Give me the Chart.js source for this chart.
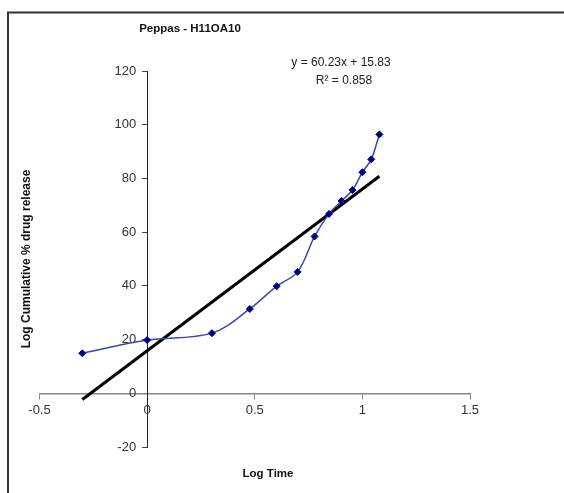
<!DOCTYPE html>
<html>
<head>
<meta charset="utf-8">
<title>Peppas - H11OA10</title>
<script src="https://cdn.jsdelivr.net/npm/chart.js@4.4.0/dist/chart.umd.min.js"></script>
<style>
  body { margin: 0; background: #fff; }
  #wrap { width: 564px; height: 493px; position: relative; }
</style>
</head>
<body>
<div id="wrap"><canvas id="myChart"></canvas></div>
<script>
// log time vs log cumulative % release
let logTime = [-0.301, 0, 0.301, 0.477, 0.602, 0.699, 0.778, 0.845, 0.903, 0.954, 1.0, 1.041, 1.079]
let release = [14.9, 19.8, 22.4, 31.4, 39.9, 45.2, 58.4, 66.8, 71.6, 75.7, 82.3, 87.1, 96.4]

// linear trendline ends
let trendX = [-0.301, 1.079]
let trendY = [-2.3, 80.8]

let xTicks = [-0.5, 0, 0.5, 1, 1.5]
let yTicks = [-20, 0, 20, 40, 60, 80, 100, 120]

let chartTitle = "Peppas - H11OA10"
let xTitle = "Log Time"
let yTitle = "Log Cumulative % drug release"
let eqLines = ["y = 60.23x + 15.83", "R\u00b2 = 0.858"]

function toPoints(xs, ys) {
    let pts = []
    for (let i = 0; i < xs.length; i++) {
        pts.push({ x: xs[i], y: ys[i] })
    }
    return pts
}

const fontName = "'Liberation Sans', Arial, sans-serif"

// frame + the loose texts Excel puts on the chart
const extras = {
    id: 'extras',
    beforeDraw(chart) {
        let ctx = chart.ctx
        ctx.save()
        ctx.fillStyle = '#fff'
        ctx.fillRect(0, 0, chart.width, chart.height)
        ctx.restore()

        // y labels on a crossing axis sit right on the line, push them left a bit
        let items = chart.scales.y.getLabelItems()
        items.forEach(it => {
            if (!it._moved) {
                it.options.translation[0] -= 11
                it._moved = true
            }
        })
    },
    afterDraw(chart) {
        let ctx = chart.ctx
        ctx.save()
        ctx.strokeStyle = '#333'
        ctx.lineWidth = 2
        ctx.beginPath()
        ctx.moveTo(8, chart.height)
        ctx.lineTo(8, 12.5)
        ctx.lineTo(chart.width, 12.5)
        ctx.stroke()

        ctx.fillStyle = '#111'
        ctx.textBaseline = 'middle'
        ctx.textAlign = 'center'
        ctx.font = `bold 11.5px ${fontName}`
        ctx.fillText(chartTitle, 190, 29)
        ctx.fillText(xTitle, 268, 474)

        ctx.font = `12px ${fontName}`
        ctx.fillStyle = '#222'
        ctx.fillText(eqLines[0], 341, 63)
        ctx.fillText(eqLines[1], 344, 81)

        ctx.save()
        ctx.translate(27, 259)
        ctx.rotate(-Math.PI / 2)
        ctx.font = `bold 12px ${fontName}`
        ctx.fillStyle = '#111'
        ctx.fillText(yTitle, 0, 0)
        ctx.restore()
        ctx.restore()
    }
}

var ctx = document.getElementById('myChart')

var ch = new Chart(ctx, {
    type: 'scatter',
    data: {
        datasets: [{
            label: 'Release',
            data: toPoints(logTime, release),
            showLine: true,
            tension: 0.35,
            borderColor: '#4343b0',
            borderWidth: 1.5,
            pointStyle: 'rectRot',
            pointRadius: 3.5,
            pointBackgroundColor: '#000080',
            pointBorderColor: '#000080',
            pointBorderWidth: 1
        }, {
            label: 'Linear',
            data: toPoints(trendX, trendY),
            showLine: true,
            borderColor: '#000',
            borderWidth: 3,
            pointRadius: 0
        }]
    },
    options: {
        responsive: true,
        maintainAspectRatio: false,
        animation: false,
        layout: {
            padding: { left: 39.5, top: 71, right: 94, bottom: 46 }
        },
        plugins: {
            legend: { display: false },
            tooltip: { enabled: false }
        },
        scales: {
            x: {
                type: 'linear',
                min: -0.5,
                max: 1.5,
                position: { y: 0 },
                afterFit: s => { s.height = 0 },
                afterBuildTicks: s => { s.ticks = xTicks.map(v => ({ value: v })) },
                grid: { drawOnChartArea: false, tickLength: 5, color: '#888' },
                border: { color: '#888', width: 1.5 },
                ticks: {
                    color: '#333',
                    font: { family: fontName, size: 13 },
                    padding: 4,
                    callback: v => '' + v
                }
            },
            y: {
                min: -20,
                max: 120,
                position: { x: 0 },
                afterFit: s => { s.width = 0 },
                afterBuildTicks: s => { s.ticks = yTicks.map(v => ({ value: v })) },
                grid: { drawOnChartArea: false, tickLength: 5, color: '#444' },
                border: { color: '#222', width: 1 },
                ticks: {
                    color: '#333',
                    font: { family: fontName, size: 13 },
                    callback: v => '' + v
                }
            }
        }
    },
    plugins: [extras]
});
</script>
</body>
</html>
